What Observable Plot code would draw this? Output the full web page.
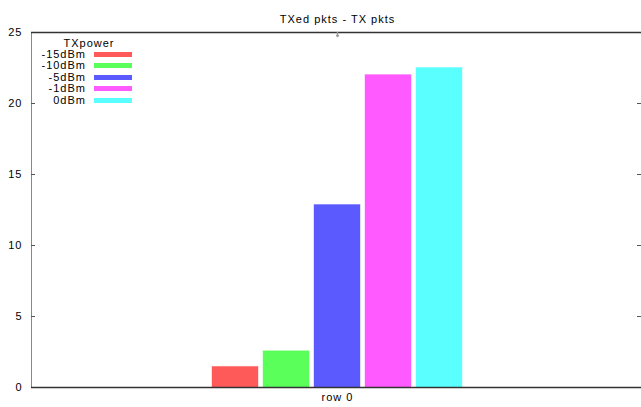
<!DOCTYPE html>
<html><head><meta charset="utf-8">
<script src="https://cdn.jsdelivr.net/npm/d3@7"></script>
<script src="https://cdn.jsdelivr.net/npm/@observablehq/plot@0.6"></script>
<style>
body{margin:0;background:#fff;}
#chart{position:relative;width:641px;height:407px;overflow:hidden;font-family:"Liberation Sans",Arial,sans-serif;}
#chart svg text{letter-spacing:1px;}
.lg{position:absolute;font-size:11px;letter-spacing:1px;line-height:13px;color:#000;white-space:nowrap;}
.sw{position:absolute;}
</style></head><body><div id="chart"></div>
<script>
const title = "TXed pkts - TX pkts";
const rowLabel = "row 0";
const legendTitle = "TXpower";
const powers = ["-15dBm", "-10dBm", "-5dBm", "-1dBm", "0dBm"];
const values = [1.45, 2.55, 12.85, 22.0, 22.5];
const colors = ["#ff5a5a", "#5aff5a", "#5a5aff", "#ff5aff", "#5affff"];
const yTicks = [0, 5, 10, 15, 20, 25];

const data = powers.map((p, i) => ({power: p, value: values[i]}));
const W = 641, H = 407, mL = 31, mR = -2, mT = 32, mB = 20;
const fw = W - mL - mR;

const plot = Plot.plot({
  width: W, height: H,
  marginLeft: mL, marginRight: mR, marginTop: mT, marginBottom: mB,
  style: {fontFamily: '"Liberation Sans", Arial, sans-serif', fontSize: "11px", background: "#fff", color: "#000"},
  x: {domain: powers, paddingInner: 0.1, paddingOuter: 3.5, axis: null},
  y: {domain: [0, 25], axis: null},
  color: {domain: powers, range: colors},
  marks: [
    Plot.frame({stroke: "#888"}),
    Plot.barY(data, {x: "power", y: "value", fill: "power", stroke: "power", strokeOpacity: 0.4}),
    Plot.axisY(yTicks, {tickSize: 0, tickPadding: 9, label: null, fontSize: 11}),
    Plot.tickY(yTicks, {y: d => d, insetRight: fw - 4, stroke: "#555"}),
    Plot.tickY(yTicks, {y: d => d, insetLeft: fw - 6, insetRight: 2, stroke: "#555"}),
    Plot.ruleY([0, 25], {stroke: "#333", strokeWidth: 1.6}),
    Plot.vector([rowLabel], {frameAnchor: "top", length: 4, rotate: 180, anchor: "start", stroke: "#999"}),
    Plot.text([title], {frameAnchor: "top", dy: -17, fontSize: 11}),
    Plot.text([rowLabel], {frameAnchor: "bottom", dy: 13, fontSize: 11})
  ]
});
const chart = document.getElementById("chart");
chart.appendChild(plot);

// legend overlay (inside plot area, top-left)
const lg = d3.select(chart);
lg.append("div").attr("class", "lg")
  .style("left", "60px").style("width", "58px").style("text-align", "center")
  .style("top", (43.3 - 6.5) + "px").text(legendTitle);
powers.forEach((p, i) => {
  const cy = 54.3 + 11.5 * i;
  lg.append("div").attr("class", "lg")
    .style("left", "0px").style("width", "86px").style("text-align", "right")
    .style("top", (cy - 6.5) + "px").text(p);
  lg.append("div").attr("class", "sw")
    .style("left", "94px").style("width", "38px")
    .style("top", (cy - 2.5) + "px").style("height", "5px")
    .style("background", colors[i]);
});
</script>
</body></html>
